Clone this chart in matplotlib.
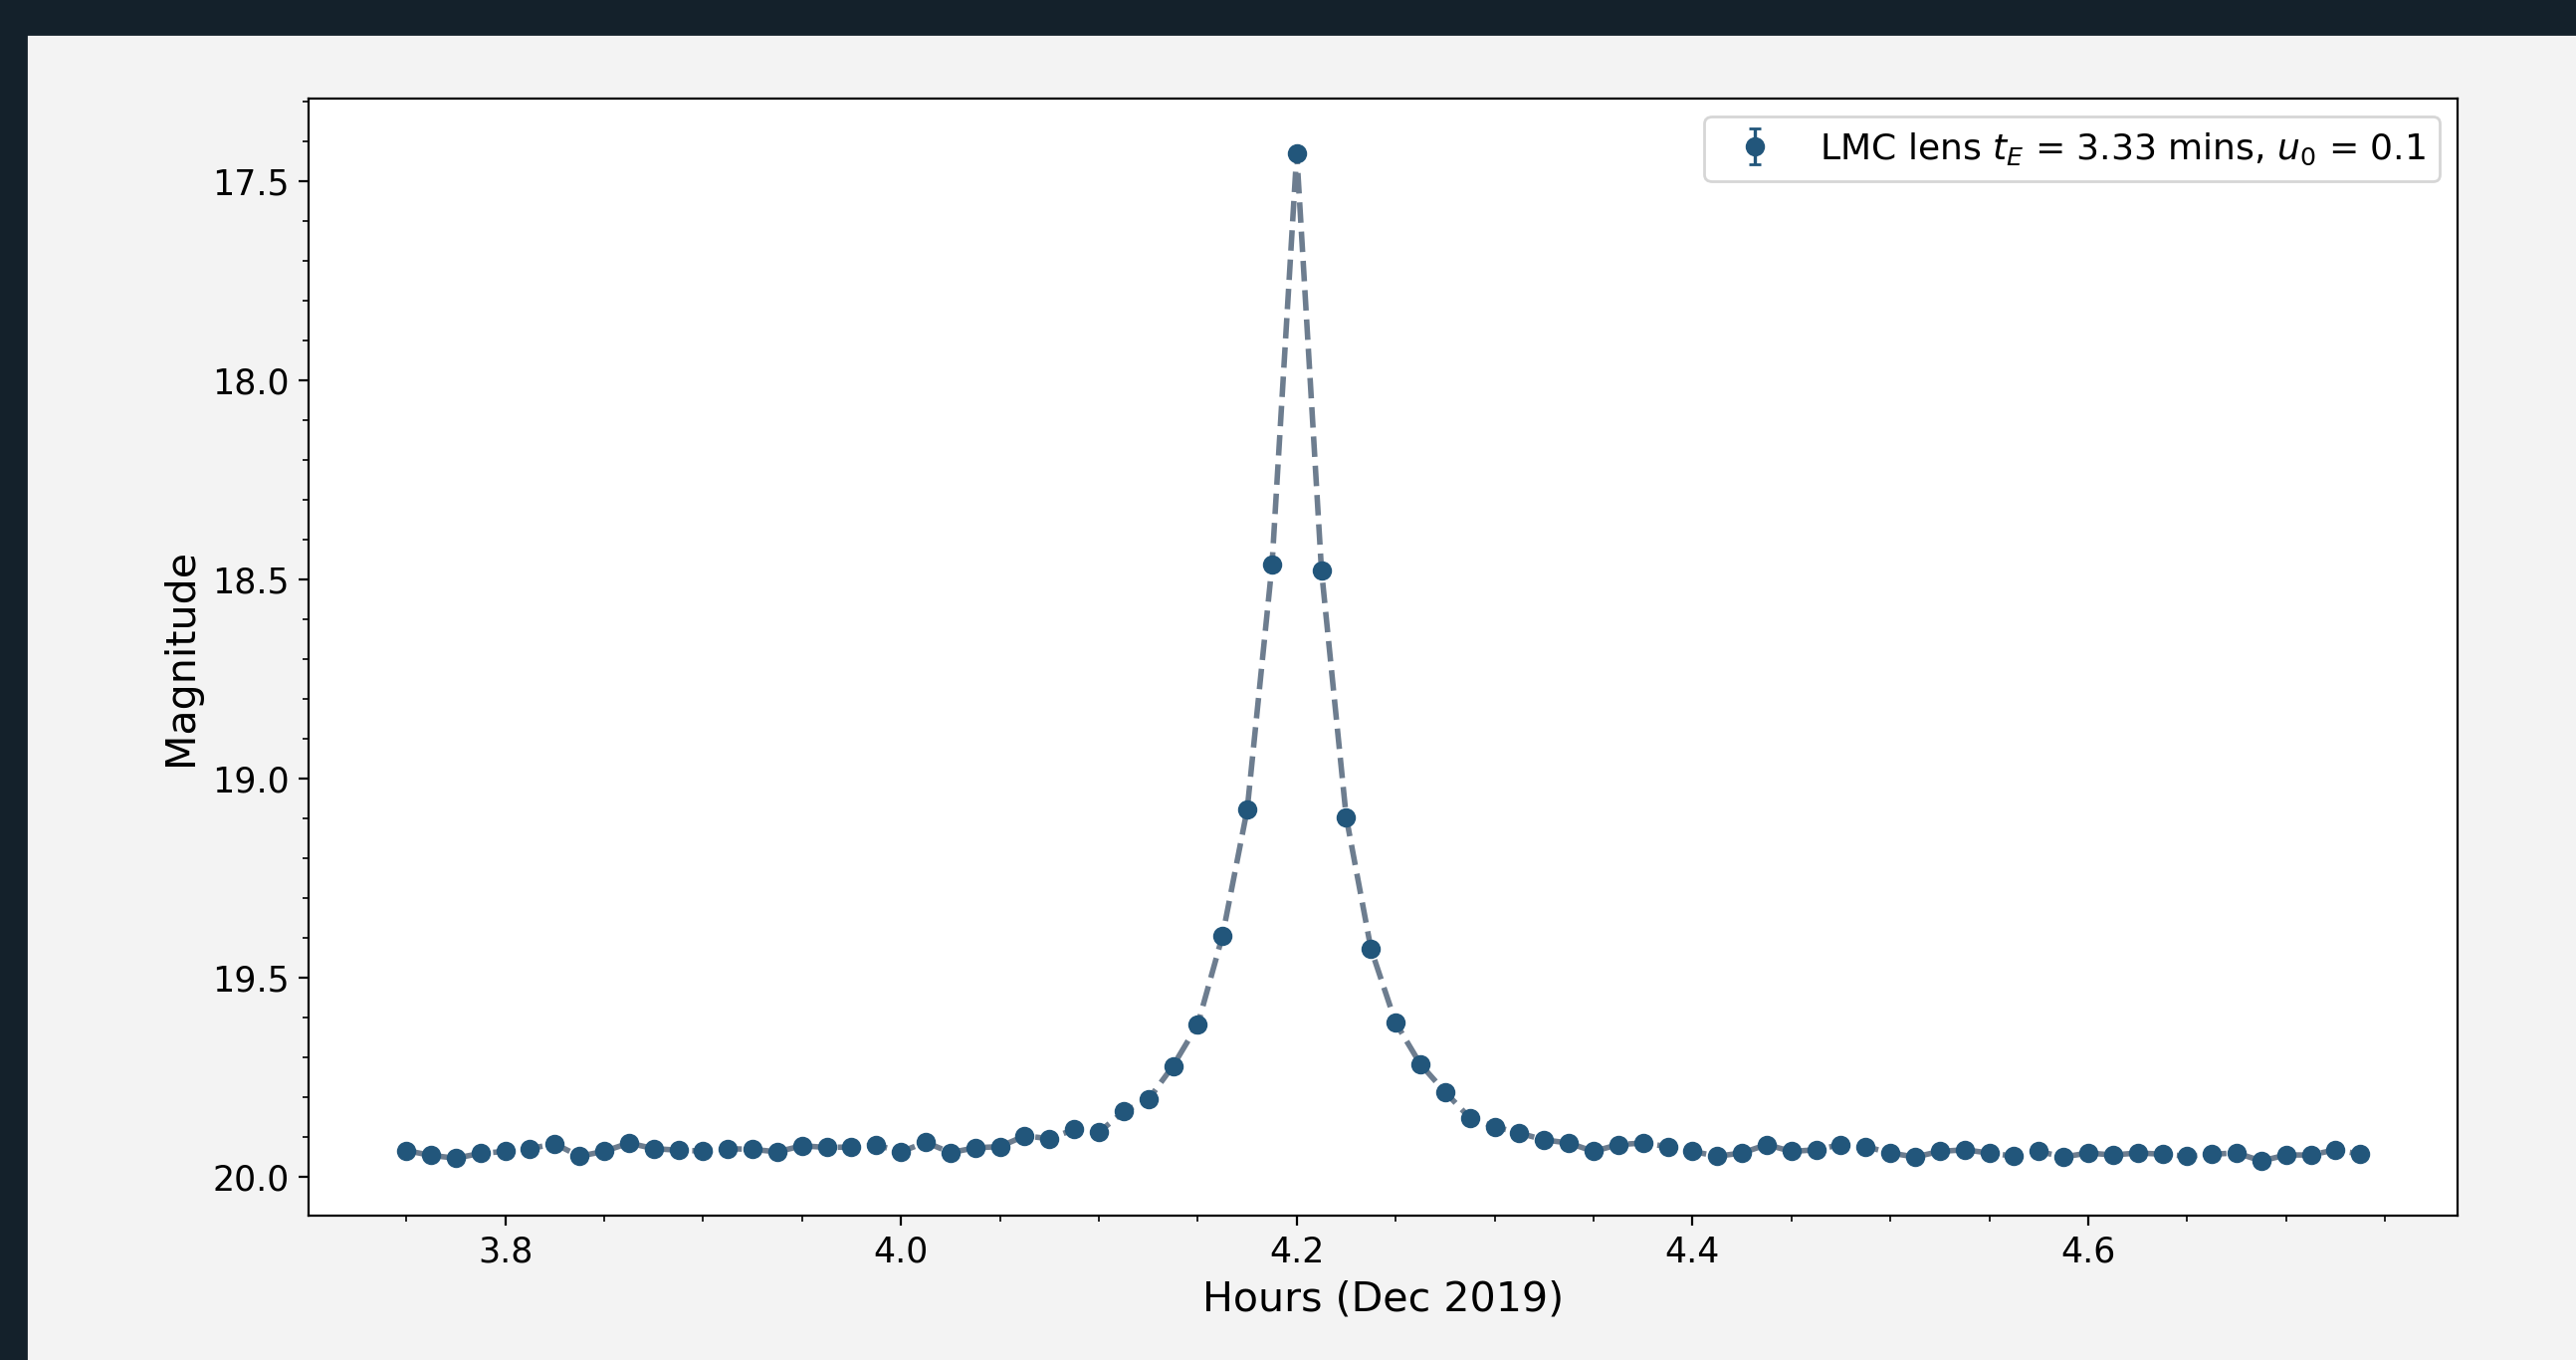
import numpy as np
import matplotlib
matplotlib.use("Agg")
import matplotlib.pyplot as plt
from matplotlib.patches import Rectangle

# hours, sampled every 0.0125 h
hours = [3.75, 3.7625, 3.775, 3.7875, 3.8, 3.8125, 3.825, 3.8375, 3.85, 3.8625,
         3.875, 3.8875, 3.9, 3.9125, 3.925, 3.9375, 3.95, 3.9625, 3.975, 3.9875,
         4.0, 4.0125, 4.025, 4.0375, 4.05, 4.0625, 4.075, 4.0875, 4.1, 4.1125,
         4.125, 4.1375, 4.15, 4.1625, 4.175, 4.1875, 4.2, 4.2125, 4.225, 4.2375,
         4.25, 4.2625, 4.275, 4.2875, 4.3, 4.3125, 4.325, 4.3375, 4.35, 4.3625,
         4.375, 4.3875, 4.4, 4.4125, 4.425, 4.4375, 4.45, 4.4625, 4.475, 4.4875,
         4.5, 4.5125, 4.525, 4.5375, 4.55, 4.5625, 4.575, 4.5875, 4.6, 4.6125,
         4.625, 4.6375, 4.65, 4.6625, 4.675, 4.6875, 4.7, 4.7125, 4.725, 4.7375]

mag = [19.934, 19.946, 19.953, 19.941, 19.936, 19.929, 19.917, 19.948, 19.936, 19.915,
       19.929, 19.933, 19.935, 19.929, 19.931, 19.937, 19.922, 19.926, 19.925, 19.920,
       19.937, 19.913, 19.939, 19.927, 19.924, 19.897, 19.904, 19.881, 19.888, 19.836,
       19.806, 19.721, 19.617, 19.394, 19.076, 18.463, 17.429, 18.476, 19.096, 19.427,
       19.613, 19.717, 19.787, 19.852, 19.874, 19.890, 19.907, 19.915, 19.936, 19.919,
       19.915, 19.924, 19.936, 19.948, 19.940, 19.919, 19.936, 19.932, 19.919, 19.924,
       19.940, 19.950, 19.936, 19.932, 19.940, 19.948, 19.936, 19.950, 19.940, 19.945,
       19.940, 19.943, 19.948, 19.943, 19.940, 19.960, 19.945, 19.945, 19.932, 19.943]

mag_err = 0.01
label = r"LMC lens $t_E$ = 3.33 mins, $u_0$ = 0.1"

fig = plt.figure(figsize=(12.94, 6.83), dpi=200, facecolor="#f3f3f3")
# dark frame strips at top and left
fig.patches.append(Rectangle((0, 1 - 34 / 1366), 1, 34 / 1366, transform=fig.transFigure,
                             color="#14212b", zorder=-1))
fig.patches.append(Rectangle((0, 0), 26 / 2588, 1, transform=fig.transFigure,
                             color="#14212b", zorder=-1))

ax = fig.add_axes([0.1198, 0.1061, 0.8344, 0.8214])
ax.set_facecolor("white")

ax.plot(hours, mag, "--", color="#6d7d8f", lw=2.0, zorder=1)
ax.errorbar(hours, mag, yerr=mag_err, fmt="o", color="#22567b", ms=6,
            capsize=2, elinewidth=1.2, label=label, zorder=2)

ax.invert_yaxis()
ax.minorticks_on()
ax.xaxis.set_major_locator(plt.MultipleLocator(0.2))
ax.xaxis.set_minor_locator(plt.MultipleLocator(0.05))
ax.yaxis.set_major_locator(plt.MultipleLocator(0.5))
ax.yaxis.set_minor_locator(plt.MultipleLocator(0.1))
ax.tick_params(labelsize=12.5)

ax.set_xlabel("Hours (Dec 2019)", fontsize=14.8)
ax.set_ylabel("Magnitude", fontsize=14.8)
ax.legend(loc="upper right", fontsize=13)

fig.savefig("out.png", dpi=200, facecolor=fig.get_facecolor())
